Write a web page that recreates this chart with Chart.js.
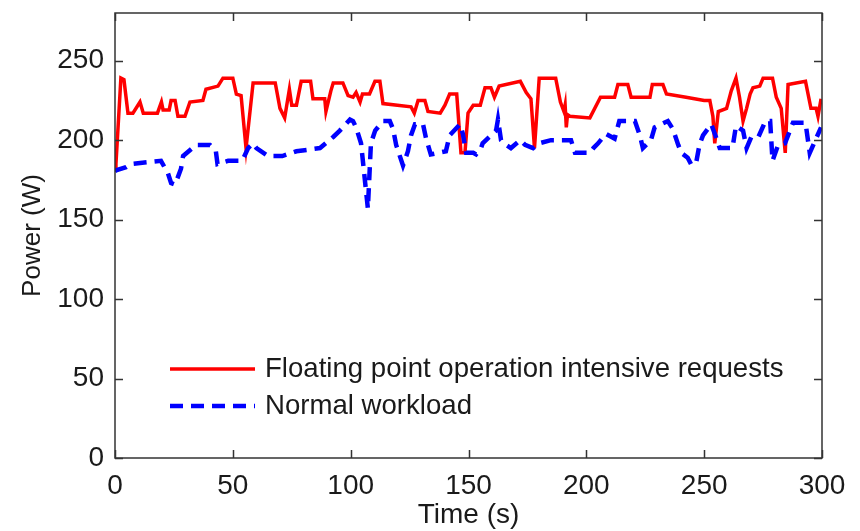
<!DOCTYPE html>
<html>
<head>
<meta charset="utf-8">
<script src="https://cdn.jsdelivr.net/npm/chart.js@4"></script>
<style>
  html, body { margin: 0; padding: 0; background: #ffffff; }
  #wrap { width: 860px; height: 531px; }
</style>
</head>
<body>
<div id="wrap"><canvas id="c" width="860" height="531"></canvas></div>
<script>
// Power trace under floating point intensive requests (seconds, watts)
const fpTime = [0, 0.4, 2.5, 3.8, 5.5, 7.6, 10.6, 12, 18, 19.7, 20.4, 23, 23.8, 25.5, 26.7, 29.7, 31.8, 37.3, 38.6, 43.7,
  45.8, 50, 51.5, 53.5, 55.6, 58.6, 68, 70, 72, 74, 75, 77, 79, 83, 84, 89, 89.5, 91.6, 92.6, 96.7,
  98.9, 101, 102.3, 104, 105, 108, 110.3, 112.4, 113.7, 125.6, 127, 128.6, 131.5, 132.8, 138, 140, 142, 145, 146.8, 148.5,
  149.8, 152, 155, 157, 159.5, 161, 163, 172, 174.5, 176.5, 178, 180, 187, 189, 190.5, 191, 191.5, 192, 193, 201.5,
  206, 212, 213.4, 217.6, 219, 227, 228, 232.5, 234, 242.3, 250, 252.4, 253.7, 254.5, 256, 259.5, 261.5, 263.5, 265, 266.5,
  268, 269.5, 270.7, 273.6, 275, 279, 280.6, 282.7, 284.4, 285.6, 293, 295.3, 297.5, 298.3, 299.6];
const fpPower = [183, 185, 239, 238, 217, 217, 224, 217, 217, 224, 219, 219, 225, 225, 215, 215, 224, 225, 232, 234,
  239, 239, 229, 228, 195, 236, 236, 220, 214, 232, 222, 222, 237, 237, 226, 226, 218, 231, 236, 236,
  228, 227, 230, 224, 229, 229, 237, 237, 223, 221, 217, 225, 225, 218, 217, 222, 229, 229, 192, 192,
  217, 222, 222, 233, 233, 227, 234, 237, 230, 226, 195, 239, 239, 224, 218, 222, 208, 216, 215, 214,
  227, 227, 235, 235, 227, 227, 235, 235, 229, 227, 225, 225, 215, 198, 218, 220, 231, 239, 227, 212,
  220, 229, 233, 234, 239, 239, 227, 220, 192, 235, 237, 220, 220, 215, 226];

// Power trace under the normal workload (seconds, watts)
const normalTime = [0, 0.4, 4.7, 6.8, 19.5, 22.5, 23.8, 25.5, 28, 28.9, 34.4, 40.3, 42.8, 43.5, 48, 54, 56.5, 58.5, 60, 65,
  71, 77, 87, 92.6, 95.4, 99.7, 101, 102.3, 104.4, 107.3, 108.6, 110.4, 113.7, 116.6, 118, 119.3, 122.2, 124.3, 125.6, 127.3,
  130.7, 132, 134, 140.4, 142, 146.4, 147.6, 149, 152, 153.2, 155.3, 156, 161.7, 162.5, 163.8, 166, 168, 172, 174, 177.4,
  180, 185, 193.5, 195.2, 201.5, 203, 205, 208.3, 212, 214, 220.6, 222.7, 224, 227.4, 229, 234.6, 236.7, 239, 240.3, 243,
  244.4, 246.5, 248, 249.5, 253, 255, 256.6, 262, 263.5, 266.5, 268, 270, 273, 276, 278, 279, 281.4, 284.3, 287.7, 293,
  294.8, 297.5, 299.6];
const normalPower = [180, 181, 183, 185, 187, 179, 173, 172, 182, 190, 197, 197, 193, 185, 187, 187, 195, 198, 195, 190,
  190, 193, 195, 202, 206, 213, 212, 208, 198, 157, 198, 206, 212, 212, 207, 197, 184, 193, 203, 210,
  210, 201, 191, 193, 203, 210, 204, 192, 192, 191, 195, 198, 206, 213, 200, 197, 195, 200, 197, 195,
  198, 200, 200, 192, 192, 195, 198, 204, 201, 212, 212, 203, 195, 200, 208, 212, 207, 197, 192, 189,
  185, 185, 197, 203, 210, 202, 195, 195, 209, 206, 195, 202, 202, 212, 212, 187, 197, 198, 211, 211,
  192, 201, 208];

const seriesNames = ['Floating point operation intensive requests', 'Normal workload'];
const xTicks = [0, 50, 100, 150, 200, 250, 300];
const yTicks = [0, 50, 100, 150, 200, 250];

const FONT = '"Liberation Sans", Arial, Helvetica, sans-serif';
const INK = '#1a1a1a';

const toPoints = (xs, ys) => xs.map((x, i) => ({ x: x, y: ys[i] }));

// Box frame with inward ticks on all four sides
const frameTicks = {
  id: 'frameTicks',
  afterDraw(chart) {
    const { ctx, chartArea: a, scales } = chart;
    const len = 8;
    ctx.save();
    ctx.strokeStyle = '#333333';
    ctx.lineWidth = 1.5;
    ctx.strokeRect(a.left, a.top, a.right - a.left, a.bottom - a.top);
    ctx.beginPath();
    xTicks.forEach(v => {
      const px = Math.round(scales.x.getPixelForValue(v)) + 0.5;
      ctx.moveTo(px, a.bottom); ctx.lineTo(px, a.bottom - len);
      ctx.moveTo(px, a.top); ctx.lineTo(px, a.top + len);
    });
    yTicks.forEach(v => {
      const py = Math.round(scales.y.getPixelForValue(v)) + 0.5;
      ctx.moveTo(a.left, py); ctx.lineTo(a.left + len, py);
      ctx.moveTo(a.right, py); ctx.lineTo(a.right - len, py);
    });
    ctx.stroke();
    ctx.restore();
  }
};

// Legend drawn inside the lower-left part of the plot area
const innerLegend = {
  id: 'innerLegend',
  afterDraw(chart) {
    const { ctx, chartArea: a } = chart;
    const x0 = a.left + 55, x1 = a.left + 140, tx = a.left + 150;
    const rows = [a.top + 356, a.top + 393];
    ctx.save();
    ctx.font = '27.6px ' + FONT;
    ctx.textBaseline = 'middle';
    ctx.textAlign = 'left';
    chart.data.datasets.forEach((ds, i) => {
      const y = rows[i];
      ctx.strokeStyle = ds.borderColor;
      ctx.lineWidth = ds.borderWidth;
      ctx.setLineDash(ds.borderDash || []);
      ctx.beginPath();
      ctx.moveTo(x0, y); ctx.lineTo(x1, y);
      ctx.stroke();
      ctx.setLineDash([]);
      ctx.fillStyle = INK;
      ctx.fillText(ds.label, tx, y);
    });
    ctx.restore();
  }
};

new Chart(document.getElementById('c'), {
  type: 'line',
  data: {
    datasets: [
      {
        label: seriesNames[0],
        data: toPoints(fpTime, fpPower),
        borderColor: '#ff0000',
        borderWidth: 3.5,
        pointRadius: 0,
        tension: 0,
        order: 1
      },
      {
        label: seriesNames[1],
        data: toPoints(normalTime, normalPower),
        borderColor: '#0000ff',
        borderWidth: 4.5,
        borderDash: [13, 8],
        pointRadius: 0,
        tension: 0,
        order: 0
      }
    ]
  },
  options: {
    responsive: false,
    animation: false,
    layout: { padding: { top: 13, right: 38, left: 0, bottom: 0 } },
    plugins: { legend: { display: false }, tooltip: { enabled: false } },
    scales: {
      x: {
        type: 'linear',
        min: 0,
        max: 300,
        afterBuildTicks(s) { s.ticks = xTicks.map(v => ({ value: v })); },
        afterFit(s) { s.height = 73; s.paddingLeft = 0; s.paddingRight = 0; },
        grid: { display: false, drawTicks: false },
        border: { display: false },
        ticks: { padding: 11, color: INK, font: { family: FONT, size: 28 } },
        title: { display: true, text: 'Time (s)', color: INK, font: { family: FONT, size: 28, lineHeight: 1 }, padding: { top: 0, bottom: 2 } }
      },
      y: {
        type: 'linear',
        min: 0,
        max: 280,
        afterBuildTicks(s) { s.ticks = yTicks.map(v => ({ value: v })); },
        afterFit(s) { s.width = 115; s.paddingTop = 0; s.paddingBottom = 0; },
        grid: { display: false, drawTicks: false },
        border: { display: false },
        ticks: { padding: 11, color: INK, font: { family: FONT, size: 28 } },
        title: { display: true, text: 'Power (W)', color: INK, font: { family: FONT, size: 26, lineHeight: 1 }, padding: { top: 20, bottom: 0 } }
      }
    }
  },
  plugins: [frameTicks, innerLegend]
});
</script>
</body>
</html>
